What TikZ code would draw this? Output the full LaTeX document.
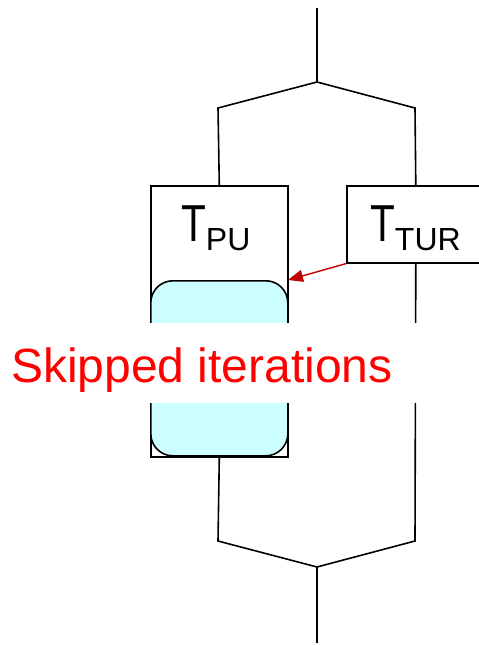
\documentclass[tikz,border=0pt]{standalone}
\usepackage{fontspec}
\setmainfont{Liberation Sans}
\usetikzlibrary{arrows.meta}
\definecolor{cyanfill}{HTML}{CCFFFF}
\definecolor{arrowred}{HTML}{C00000}
\tikzset{
  wire/.style={line width=1.6pt, black},
  boxstyle/.style={draw=black, line width=1.6pt, fill=white, inner sep=0pt},
  skipbox/.style={draw=black, line width=1.6pt, fill=cyanfill, inner sep=0pt, rounded corners=22pt},
  bigT/.style={inner sep=0pt, anchor=base west},
}
\newcommand{\tsub}[1]{{\fontsize{52}{52}\selectfont\scalebox{0.78}[1]{T}}\raisebox{-9pt}{\fontsize{32}{32}\selectfont #1}}
\begin{document}
\begin{tikzpicture}[x=1pt,y=-1pt]
\clip (0,0) rectangle (479,645);
\fill[white] (0,0) rectangle (479,645);
% coordinates
\coordinate (top) at (317,8);
\coordinate (forkT) at (317,82);
\coordinate (lt) at (218,108);
\coordinate (rt) at (415,108);
\coordinate (lb) at (218,541);
\coordinate (rb) at (415,541);
\coordinate (forkB) at (317,567);
\coordinate (bot) at (317,643);
\coordinate (arrowtip) at (288,280);
% boxes
\node[boxstyle, anchor=north west, minimum width=137, minimum height=271] (pu) at (150,185) {};
\node[skipbox, anchor=north west, minimum width=137, minimum height=175] (skip) at (150,280) {};
\node[boxstyle, anchor=north west, minimum width=138, minimum height=77] (tur) at (346,185) {};
% wires
\draw[wire] (top) -- (forkT) -- (lt) -- (pu.north);
\draw[wire] (forkT) -- (rt) -- (tur.north);
\draw[wire] (pu.south) -- (lb) -- (forkB) -- (rb) -- (tur.south);
\draw[wire] (forkB) -- (bot);
% arrow
\draw[line width=1.4pt, arrowred, -{Triangle[length=15pt,width=12pt]}] (tur.south west) -- (arrowtip);
% labels
\node[bigT] (pulabel) at (181,241) {\tsub{PU}};
\node[bigT] (turlabel) at (370,241) {\tsub{TUR}};
\node[fill=white, inner sep=0pt, anchor=north west, minimum width=420, minimum height=80] (skipbg) at (-3,323) {};
\node[inner sep=0pt, anchor=base west, text=red] (skiptext) at (11,382) {\fontsize{48}{48}\selectfont Skipped iterations};
\end{tikzpicture}
\end{document}
